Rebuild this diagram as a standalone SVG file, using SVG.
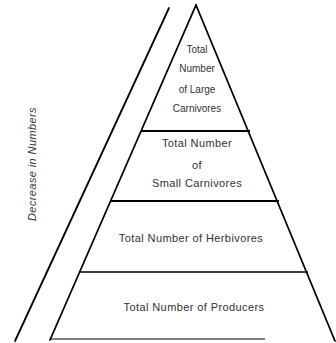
<svg xmlns="http://www.w3.org/2000/svg" width="336" height="343" viewBox="0 0 336 343">
  <style>
    .side { stroke: #000; stroke-width: 1.8; fill: none; stroke-linecap: round; }
    .tier { stroke: #000; fill: none; }
    .lbl { font-family: "Liberation Sans", Arial, sans-serif; font-size: 11px; letter-spacing: 0.4px; fill: #333; text-anchor: middle; }
    .apex { font-size: 10px; letter-spacing: 0; }
  </style>
  <rect width="336" height="343" fill="#fff"/>

  <!-- pyramid outline and tier dividers -->
  <g id="connectors">
    <line class="side" x1="169" y1="8" x2="15" y2="341"/>
    <line class="side" x1="196" y1="5" x2="50" y2="340"/>
    <line class="side" x1="196" y1="5" x2="335" y2="341"/>
    <line class="tier" x1="141" y1="131" x2="250" y2="131" stroke-width="2"/>
    <line class="tier" x1="110" y1="201" x2="279" y2="201" stroke-width="2.2"/>
    <line class="tier" x1="80" y1="272" x2="308" y2="272" stroke-width="1.4"/>
    <line class="tier" x1="51" y1="339" x2="265" y2="339" stroke="#999" stroke-width="1"/>
  </g>

  <g id="axis-label">
    <text class="lbl" transform="translate(36,164) rotate(-90)" font-style="italic" font-size="10.5" letter-spacing="0.9">Decrease in Numbers</text>
  </g>

  <g id="tier-large-carnivores">
    <text class="lbl apex" x="197" y="53">Total</text>
    <text class="lbl apex" x="197" y="72">Number</text>
    <text class="lbl apex" x="197" y="93">of Large</text>
    <text class="lbl apex" x="197" y="112">Carnivores</text>
  </g>

  <g id="tier-small-carnivores">
    <text class="lbl" x="197" y="147">Total Number</text>
    <text class="lbl" x="197" y="169">of</text>
    <text class="lbl" x="197" y="187">Small Carnivores</text>
  </g>

  <g id="tier-herbivores">
    <text class="lbl" x="191" y="242">Total Number of Herbivores</text>
  </g>

  <g id="tier-producers">
    <text class="lbl" x="194" y="311">Total Number of Producers</text>
  </g>
</svg>
